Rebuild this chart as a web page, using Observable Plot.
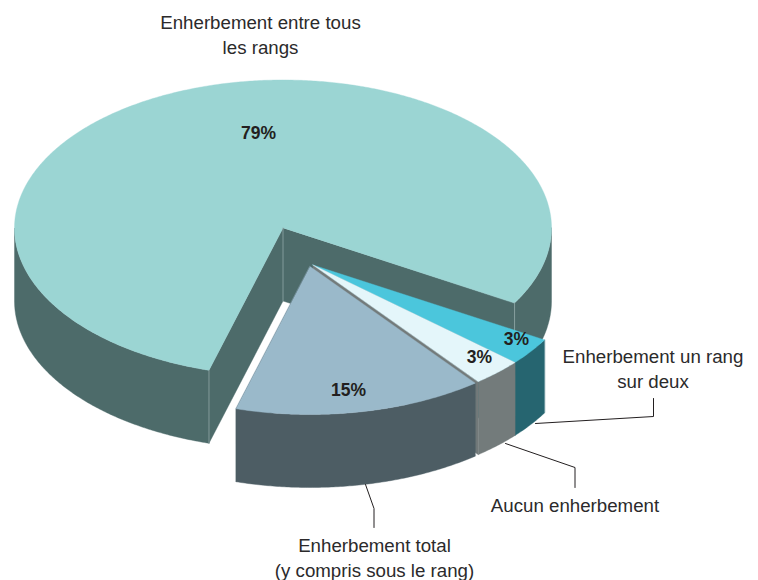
<!DOCTYPE html>
<html lang="fr">
<head>
<meta charset="utf-8">
<title>Enherbement des vignes</title>
<script src="https://cdn.jsdelivr.net/npm/d3@7"></script>
<script src="https://cdn.jsdelivr.net/npm/@observablehq/plot@0.6"></script>
<style>
  html, body { margin: 0; padding: 0; background: #fff; }
  svg { display: block; }
</style>
</head>
<body>
<div id="chart"></div>
<script>
// Parts de chaque mode d'enherbement, dans le sens de rotation du camembert.
const categories = ["Enherbement un rang sur deux", "Aucun enherbement", "Enherbement total", "Enherbement entre tous les rangs"];
const shares = [3, 3, 15, 79];
const topColors = ["#4bc6dc", "#e4f6fa", "#9ab9ca", "#9bd5d3"];
const sideColors = ["#266570", "#737b7b", "#4d5d64", "#4d6b6a"];

// Projection du disque : ellipse, épaisseur et décalage des parts détachées.
const pie = {cx: 282.5, cy: 227.5, rx: 268.5, ry: 148, depth: 73, start: 30.4};
const detach = [[30, 37], [30, 37], [27, 38.5], [0, 0]];

const rad = (deg) => (deg * Math.PI) / 180;
const bounds = d3.cumsum([0, ...shares]).map((s) => pie.start + (s * 360) / 100);

const rimPoint = (i, t, drop = 0) => ({
  x: pie.cx + detach[i][0] + pie.rx * Math.cos(rad(t)),
  y: pie.cy + detach[i][1] + pie.ry * Math.sin(rad(t)) + drop
});
const apexPoint = (i, drop = 0) => ({
  x: pie.cx + detach[i][0],
  y: pie.cy + detach[i][1] + drop
});
const arc = (i, t0, t1, drop = 0) => {
  const n = Math.max(2, Math.ceil(Math.abs(t1 - t0) * 2));
  return d3.range(n + 1).map((k) => rimPoint(i, t0 + ((t1 - t0) * k) / n, drop));
};

const topFace = (i) => [apexPoint(i), ...arc(i, bounds[i], bounds[i + 1])];
const radialWall = (i, t) => [apexPoint(i), rimPoint(i, t), rimPoint(i, t, pie.depth), apexPoint(i, pie.depth)];
const outerWall = (i, t0, t1) => [...arc(i, t0, t1), ...arc(i, t1, t0, pie.depth)];

const polygon = (points, fill) => Plot.line(points, {x: "x", y: "y", fill, stroke: fill, strokeWidth: 0.4, curve: "linear-closed"});

// Le grand secteur passe en premier : ses faces intérieures restent derrière les parts détachées.
const big = 3;
const mainMarks = [
  polygon(radialWall(big, bounds[big]), sideColors[big]),
  polygon(radialWall(big, bounds[big + 1]), sideColors[big]),
  polygon(outerWall(big, bounds[big], 180), sideColors[big]),
  polygon(outerWall(big, 360, bounds[big + 1]), sideColors[big]),
  polygon(topFace(big), topColors[big])
];

// Arêtes verticales claires aux angles du grand secteur.
const edges = [
  [apexPoint(big), apexPoint(big, pie.depth)],
  [rimPoint(big, bounds[big]), rimPoint(big, bounds[big], pie.depth)],
  [rimPoint(big, bounds[big + 1]), rimPoint(big, bounds[big + 1], pie.depth)]
];
const edgeMarks = edges.map((e) => Plot.line(e, {x: "x", y: "y", stroke: "#93aaa9", strokeWidth: 0.8}));

// Parts détachées, de l'arrière vers l'avant.
const sliceMarks = [0, 1, 2].flatMap((i) => [
  polygon(radialWall(i, bounds[i + 1]), sideColors[i]),
  polygon(outerWall(i, bounds[i], bounds[i + 1]), sideColors[i]),
  polygon(topFace(i), topColors[i])
]);

// Traits de rappel entre les parts et leurs légendes.
const leaders = [
  [{x: 365, y: 484}, {x: 373.5, y: 508}, {x: 373.5, y: 527}],
  [{x: 505, y: 443}, {x: 574.5, y: 467}, {x: 574.5, y: 487}],
  [{x: 535, y: 423}, {x: 653, y: 416}, {x: 653, y: 398}]
];
const leaderMarks = leaders.map((l) => Plot.line(l, {x: "x", y: "y", stroke: "#231f20", strokeWidth: 1}));

const captions = [
  {text: "Enherbement entre tous\nles rangs", x: 260, y: 33},
  {text: "Enherbement un rang\nsur deux", x: 652.5, y: 367},
  {text: "Aucun enherbement", x: 574.5, y: 503},
  {text: "Enherbement total\n(y compris sous le rang)", x: 374, y: 556}
];
const percents = [
  {text: `${shares[3]}%`, x: 258, y: 133},
  {text: `${shares[2]}%`, x: 348, y: 390},
  {text: `${shares[1]}%`, x: 479, y: 357},
  {text: `${shares[0]}%`, x: 516, y: 339}
];

const fontFamily = "'Liberation Sans', Arial, sans-serif";

const chart = Plot.plot({
  width: 758,
  height: 580,
  margin: 0,
  x: {domain: [0, 758], range: [0, 758], axis: null},
  y: {domain: [0, 580], range: [0, 580], axis: null},
  style: {background: "#fff", fontFamily},
  marks: [
    ...mainMarks,
    ...edgeMarks,
    ...sliceMarks,
    ...leaderMarks,
    Plot.text(captions, {x: "x", y: "y", text: "text", fontSize: 18.7, lineHeight: 1.34, fill: "#2b2a2b", textAnchor: "middle"}),
    Plot.text(percents, {x: "x", y: "y", text: "text", fontSize: 17.5, fontWeight: "bold", fill: "#231f20", textAnchor: "middle"})
  ]
});

document.getElementById("chart").append(chart);
</script>
</body>
</html>
